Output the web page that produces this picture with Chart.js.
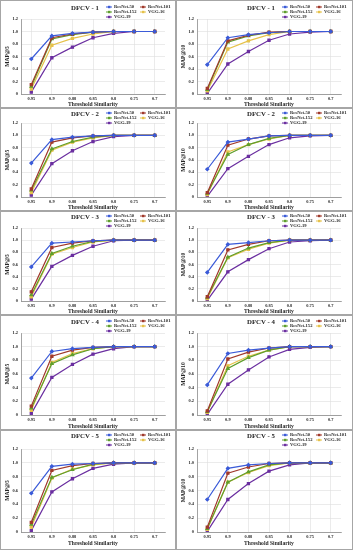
<!DOCTYPE html>
<html>
<head>
<meta charset="utf-8">
<script src="https://cdn.jsdelivr.net/npm/chart.js@4.4.0/dist/chart.umd.min.js"></script>
<style>
    body { margin: 0; background: #fff; }
    #wrap { position: relative; width: 353px; height: 550px; background: #fff; }
    .cell { position: absolute; box-sizing: border-box; border: 1px solid #a6a6a6; background: #fff; }
    .cell canvas { display: block; }
</style>
</head>
<body>
<div id="wrap"></div>
<script>
    "use strict";

    // Categories and series
    var thresholds = ["0.95", "0.9", "0.88", "0.85", "0.8", "0.75", "0.7"];
    var models = ["ResNet-50", "ResNet-101", "ResNet-152", "VGG-16", "VGG-19"];
    var folds = ["DFCV - 1", "DFCV - 2", "DFCV - 3", "DFCV - 4", "DFCV - 5"];

    // MAP@5, one row per model (ResNet-50, ResNet-101, ResNet-152, VGG-16, VGG-19)
    var map5Fold1 = [
        [0.56, 0.93, 0.97, 0.99, 1, 1, 1],
        [0.15, 0.90, 0.96, 0.99, 1, 1, 1],
        [0.12, 0.88, 0.95, 0.99, 1, 1, 1],
        [0.08, 0.78, 0.89, 0.96, 1, 1, 1],
        [0.03, 0.58, 0.75, 0.90, 0.97, 1, 1]
    ];
    var map5Fold2 = [
        [0.55, 0.93, 0.97, 0.99, 1, 1, 1],
        [0.13, 0.89, 0.96, 0.99, 1, 1, 1],
        [0.11, 0.78, 0.90, 0.97, 1, 1, 1],
        [0.07, 0.76, 0.89, 0.96, 1, 1, 1],
        [0.03, 0.54, 0.75, 0.90, 0.98, 1, 1]
    ];
    var map5Fold3 = [
        [0.56, 0.95, 0.97, 0.99, 1, 1, 1],
        [0.15, 0.88, 0.95, 0.99, 1, 1, 1],
        [0.10, 0.78, 0.90, 0.98, 1, 1, 1],
        [0.07, 0.77, 0.88, 0.97, 1, 1, 1],
        [0.03, 0.57, 0.75, 0.90, 0.99, 1, 1]
    ];
    var map5Fold4 = [
        [0.54, 0.93, 0.97, 0.99, 1, 1, 1],
        [0.13, 0.86, 0.95, 0.99, 1, 1, 1],
        [0.10, 0.75, 0.88, 0.97, 1, 1, 1],
        [0.07, 0.77, 0.90, 0.97, 1, 1, 1],
        [0.02, 0.55, 0.74, 0.89, 0.97, 1, 1]
    ];
    var map5Fold5 = [
        [0.56, 0.95, 0.98, 0.99, 1, 1, 1],
        [0.14, 0.89, 0.96, 0.99, 1, 1, 1],
        [0.11, 0.79, 0.90, 0.98, 1, 1, 1],
        [0.07, 0.78, 0.91, 0.97, 1, 1, 1],
        [0.02, 0.58, 0.77, 0.92, 0.98, 1, 1]
    ];

    // MAP@10
    var map10Fold1 = [
        [0.47, 0.90, 0.95, 0.98, 1, 1, 1],
        [0.09, 0.85, 0.94, 0.99, 1, 1, 1],
        [0.07, 0.83, 0.93, 0.98, 1, 1, 1],
        [0.05, 0.72, 0.85, 0.95, 1, 1, 1],
        [0.01, 0.48, 0.68, 0.86, 0.96, 0.99, 1]
    ];
    var map10Fold2 = [
        [0.45, 0.89, 0.94, 0.99, 1, 1, 1],
        [0.07, 0.84, 0.94, 0.99, 1, 1, 1],
        [0.06, 0.69, 0.85, 0.95, 1, 1, 1],
        [0.04, 0.73, 0.85, 0.94, 1, 1, 1],
        [0.01, 0.46, 0.66, 0.85, 0.96, 0.99, 1]
    ];
    var map10Fold3 = [
        [0.47, 0.93, 0.96, 0.99, 1, 1, 1],
        [0.07, 0.84, 0.93, 0.99, 1, 1, 1],
        [0.06, 0.72, 0.87, 0.96, 1, 1, 1],
        [0.04, 0.71, 0.85, 0.95, 1, 1, 1],
        [0.01, 0.48, 0.68, 0.86, 0.97, 0.99, 1]
    ];
    var map10Fold4 = [
        [0.44, 0.90, 0.95, 0.98, 1, 1, 1],
        [0.06, 0.82, 0.92, 0.98, 1, 1, 1],
        [0.05, 0.68, 0.84, 0.95, 1, 1, 1],
        [0.04, 0.72, 0.86, 0.95, 1, 1, 1],
        [0.01, 0.45, 0.66, 0.85, 0.96, 0.99, 1]
    ];
    var map10Fold5 = [
        [0.47, 0.92, 0.97, 0.99, 1, 1, 1],
        [0.07, 0.85, 0.94, 0.99, 1, 1, 1],
        [0.05, 0.72, 0.87, 0.97, 1, 1, 1],
        [0.04, 0.72, 0.86, 0.96, 1, 1, 1],
        [0.01, 0.47, 0.70, 0.88, 0.97, 1, 1]
    ];

    var map5 = [map5Fold1, map5Fold2, map5Fold3, map5Fold4, map5Fold5];
    var map10 = [map10Fold1, map10Fold2, map10Fold3, map10Fold4, map10Fold5];

    var colors = ["#3b5bd8", "#a0392b", "#5f9e2c", "#e6c24a", "#6b2fa0"];
    var pointStyles = ["rectRot", "rect", "triangle", "rect", "rect"];

    // Panel layout (rows: top, height, plot top, gap under plot, header y)
    var rowTop = [0, 108, 211, 315, 430];
    var rowH = [108, 103, 104, 115, 120];
    var plotTop = [18, 14, 16, 17, 18];
    var plotGap = [13, 13, 13, 14, 17];
    var headY = [6, 4, 4, 5, 4];
    var colLeft = [0, 176];
    var colW = [176, 177];

    var serif = "'Liberation Serif', 'Times New Roman', serif";
    var textColor = "#262626";

    // Title + legend drawn above the plot
    var headerPlugin = {
        id: "header",
        afterDraw: function (chart, args, opts) {
            var ctx = chart.ctx;
            var y = opts.y;
            ctx.save();
            ctx.fillStyle = textColor;
            ctx.textBaseline = "middle";
            ctx.textAlign = "center";
            ctx.font = "bold 6.8px " + serif;
            ctx.fillText(opts.text, 84, y + 1);

            ctx.font = "bold 4.6px " + serif;
            ctx.textAlign = "left";
            chart.data.datasets.forEach(function (ds, i) {
                var lx = 105 + (i % 2) * 34;
                var ly = y + Math.floor(i / 2) * 5;
                ctx.strokeStyle = ds.borderColor;
                ctx.lineWidth = 1;
                ctx.beginPath();
                ctx.moveTo(lx, ly);
                ctx.lineTo(lx + 6, ly);
                ctx.stroke();
                ctx.fillStyle = ds.borderColor;
                ctx.fillRect(lx + 2, ly - 1.2, 2.4, 2.4);
                ctx.fillStyle = textColor;
                ctx.fillText(ds.label, lx + 8, ly + 0.3);
            });
            ctx.restore();
        }
    };

    function makeChart(row, col, series, yLabel) {
        var cell = document.createElement("div");
        cell.className = "cell";
        cell.style.left = colLeft[col] + "px";
        cell.style.top = rowTop[row] + "px";
        cell.style.width = colW[col] + "px";
        cell.style.height = rowH[row] + "px";
        var canvas = document.createElement("canvas");
        var w = colW[col] - 2, h = rowH[row] - 2;
        canvas.width = w;
        canvas.height = h;
        cell.appendChild(canvas);
        document.getElementById("wrap").appendChild(cell);

        var xh = Math.min(plotGap[row], 14);

        return new Chart(canvas, {
            type: "line",
            data: {
                labels: thresholds,
                datasets: models.map(function (m, i) {
                    return {
                        label: m,
                        data: series[i],
                        borderColor: colors[i],
                        backgroundColor: colors[i],
                        borderWidth: 1.2,
                        pointRadius: 1.5,
                        pointStyle: pointStyles[i],
                        tension: 0
                    };
                })
            },
            options: {
                responsive: false,
                animation: false,
                layout: {
                    padding: { top: plotTop[row], right: w - 164, left: 0, bottom: plotGap[row] - xh }
                },
                plugins: {
                    legend: { display: false },
                    tooltip: { enabled: false },
                    header: { text: folds[row], y: headY[row] }
                },
                scales: {
                    x: {
                        offset: true,
                        grid: { color: "#dedede", lineWidth: 0.6, drawTicks: false },
                        border: { color: "#8c8c8c", width: 0.8 },
                        ticks: {
                            color: textColor,
                            font: { family: serif, size: 4.4, weight: "bold" },
                            padding: 2,
                            maxRotation: 0,
                            autoSkip: false
                        },
                        title: {
                            display: true,
                            text: "Threshold Similarity",
                            color: textColor,
                            font: { family: serif, size: 5.6, weight: "bold", lineHeight: 1 },
                            padding: 0
                        },
                        afterFit: function (s) { s.height = xh; }
                    },
                    y: {
                        min: 0,
                        max: 1.2,
                        grid: { color: "#dedede", lineWidth: 0.6, drawTicks: false },
                        border: { color: "#8c8c8c", width: 0.8 },
                        ticks: {
                            stepSize: 0.2,
                            color: textColor,
                            font: { family: serif, size: 4.4, weight: "bold" },
                            padding: 3
                        },
                        title: {
                            display: true,
                            text: yLabel,
                            color: textColor,
                            font: { family: serif, size: 5.6, weight: "bold" },
                            padding: { top: 3, bottom: 0 }
                        },
                        afterFit: function (s) { s.width = 20; }
                    }
                }
            },
            plugins: [headerPlugin]
        });
    }

    for (var r = 0; r < 5; r++) {
        makeChart(r, 0, map5[r], "MAP@5");
        makeChart(r, 1, map10[r], "MAP@10");
    }
</script>
</body>
</html>
